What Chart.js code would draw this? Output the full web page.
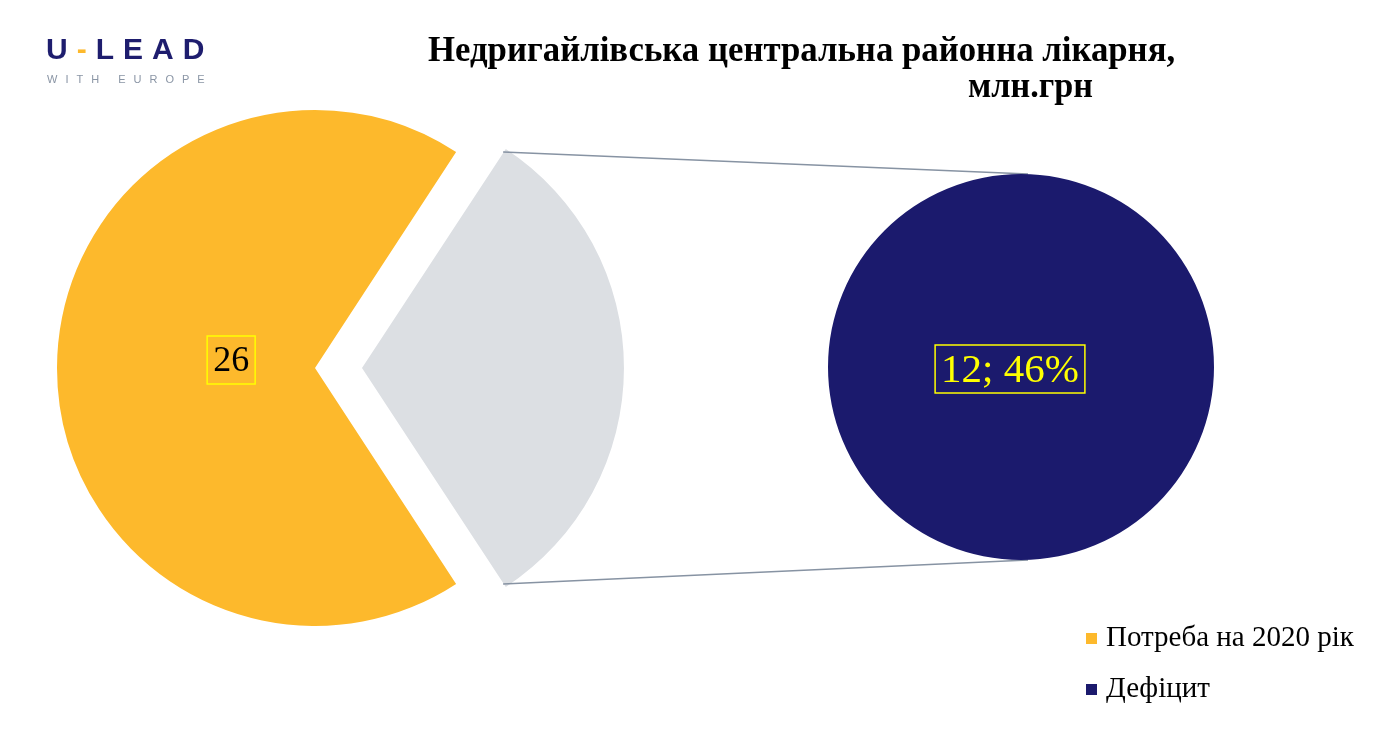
<!DOCTYPE html>
<html>
<head>
<meta charset="utf-8">
<script src="https://cdn.jsdelivr.net/npm/chart.js@4.4.1/dist/chart.umd.min.js"></script>
<style>
    body { margin: 0; background: #fff; }
    #page { position: relative; width: 1380px; height: 753px; overflow: hidden; background: #fff; }
    .layer { position: absolute; left: 0; top: 0; width: 1380px; height: 753px; }
    .txt { position: absolute; white-space: nowrap; }
    #logo { left: 46px; top: 34px; font-family: "Liberation Sans", Arial, sans-serif; font-weight: bold;
            font-size: 30px; line-height: 30px; letter-spacing: 9px; color: #1E1D6E; }
    #logo .dash { color: #FDB92C; }
    #logoSub { left: 47px; top: 74px; font-family: "Liberation Sans", Arial, sans-serif; font-size: 11px;
               line-height: 11px; letter-spacing: 8px; color: #8A95A5; }
    .title { font-family: "Liberation Serif", "Times New Roman", serif; font-weight: bold; font-size: 35px;
             line-height: 35px; color: #000; transform-origin: 0 0; }
    .legendItem { font-family: "Liberation Serif", "Times New Roman", serif; font-size: 29px; line-height: 29px; color: #000; }
    .legendBox { position: absolute; width: 11px; height: 11px; }
</style>
</head>
<body>
<div id="page">
    <div class="layer"><canvas id="mainPie"></canvas></div>
    <div class="layer"><canvas id="detailPie"></canvas></div>

    <div id="logo" class="txt">U<span class="dash">-</span>LEAD</div>
    <div id="logoSub" class="txt">WITH EUROPE</div>

    <div id="title1" class="txt title" style="left:428px; top:32px;">Недригайлівська центральна районна лікарня,</div>
    <div id="title2" class="txt title" style="left:968px; top:68px;">млн.грн</div>

    <div id="legend"></div>
</div>
<script>
// дані
const pieLabels = ['Потреба на 2020 рік', 'Дефіцит'];
const pieValues = [26, 12];
const detailLabels = ['Дефіцит'];
const detailValues = [12];

const orange = '#FDB92C';
const grey = '#DCDFE3';
const navy = '#1B1A6D';

// title is a condensed bold serif, squeeze to the width seen in the picture
function fitWidth(id, w) {
    const el = document.getElementById(id);
    el.style.transform = 'scaleX(' + (w / el.offsetWidth) + ')';
}
fitWidth('title1', 747);
fitWidth('title2', 125);

// legend
const legend = document.getElementById('legend');
const legendColors = [orange, navy];
pieLabels.forEach((text, i) => {
    const baseline = 646 + i * 51;
    const box = document.createElement('div');
    box.className = 'legendBox';
    box.style.left = '1086px';
    box.style.top = (baseline - 13) + 'px';
    box.style.background = legendColors[i];
    legend.appendChild(box);
    const lab = document.createElement('div');
    lab.className = 'txt legendItem';
    lab.style.left = '1106px';
    lab.style.top = (baseline - 24) + 'px';
    lab.textContent = text;
    legend.appendChild(lab);
});

const explode = 47; // px the grey slice is pulled out
const total = pieValues.reduce((a, b) => a + b, 0);
const halfOther = 180 * pieValues[1] / total;

function drawBoxLabel(ctx, text, x, y, font, color) {
    ctx.save();
    ctx.font = font;
    ctx.textAlign = 'center';
    ctx.textBaseline = 'middle';
    const w = ctx.measureText(text).width + 12;
    const h = 48;
    ctx.strokeStyle = '#FFFF00';
    ctx.lineWidth = 1.5;
    ctx.strokeRect(x - w / 2, y - h / 2, w, h);
    ctx.fillStyle = color;
    ctx.fillText(text, x, y + 2);
    ctx.restore();
}

const mainLabels = {
    id: 'mainLabels',
    afterDatasetsDraw(chart) {
        const arc = chart.getDatasetMeta(0).data[0];
        const mid = (arc.startAngle + arc.endAngle) / 2;
        const d = arc.outerRadius * 0.325;
        drawBoxLabel(chart.ctx, String(pieValues[0]), arc.x + Math.cos(mid) * d, arc.y + Math.sin(mid) * d - 8,
            '36px "Liberation Serif", serif', '#000');
    }
};

const mainPie = new Chart(document.getElementById('mainPie'), {
    type: 'pie',
    data: {
        labels: pieLabels,
        datasets: [{
            data: pieValues,
            backgroundColor: [orange, grey],
            borderWidth: 0,
            offset: [0, explode * 4],
        }]
    },
    options: {
        responsive: true,
        maintainAspectRatio: false,
        animation: false,
        rotation: 90 + halfOther,
        radius: 258,
        layout: { padding: { left: 0, right: 750, top: 0, bottom: 17 } },
        plugins: { legend: { display: false }, tooltip: { enabled: false } },
    },
    plugins: [mainLabels]
});

// connector lines from the pulled-out slice to the detail pie
const connectors = {
    id: 'connectors',
    beforeDatasetsDraw(chart) {
        const other = mainPie.getDatasetMeta(0).data[1];
        const mid = (other.startAngle + other.endAngle) / 2;
        const cx = other.x + Math.cos(mid) * explode;
        const cy = other.y + Math.sin(mid) * explode;
        const r = other.outerRadius;
        const c = chart.getDatasetMeta(0).data[0];
        const ctx = chart.ctx;
        ctx.save();
        ctx.strokeStyle = '#8793A3';
        ctx.lineWidth = 1.5;
        [[other.startAngle, -1], [other.endAngle, 1]].forEach(([a, s]) => {
            ctx.beginPath();
            ctx.moveTo(cx + Math.cos(a) * r, cy + Math.sin(a) * r);
            ctx.lineTo(c.x + 7, c.y + s * c.outerRadius);
            ctx.stroke();
        });
        ctx.restore();
    },
    afterDatasetsDraw(chart) {
        const c = chart.getDatasetMeta(0).data[0];
        const pct = Math.round(detailValues[0] / pieValues[0] * 100);
        drawBoxLabel(chart.ctx, detailValues[0] + '; ' + pct + '%', c.x - 11, c.y + 2,
            '41px "Liberation Serif", serif', '#FFFF00');
    }
};

const detailPie = new Chart(document.getElementById('detailPie'), {
    type: 'pie',
    data: {
        labels: detailLabels,
        datasets: [{
            data: detailValues,
            backgroundColor: [navy],
            borderWidth: 0,
        }]
    },
    options: {
        responsive: true,
        maintainAspectRatio: false,
        animation: false,
        radius: 193,
        layout: { padding: { left: 828, right: 166, top: 174, bottom: 193 } },
        plugins: { legend: { display: false }, tooltip: { enabled: false } },
    },
    plugins: [connectors]
});
</script>
</body>
</html>
